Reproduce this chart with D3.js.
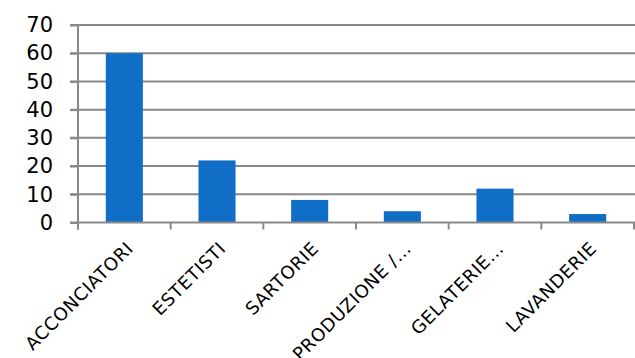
<!DOCTYPE html>
<html>
<head>
<meta charset="utf-8">
<script src="https://cdn.jsdelivr.net/npm/d3@7"></script>
<style>
  html, body { margin: 0; padding: 0; background: #fff; }
  svg { display: block; }
</style>
</head>
<body>
<svg id="chart" width="635" height="358"></svg>
<script>
// Categories and counts
const categories = ["ACCONCIATORI", "ESTETISTI", "SARTORIE", "PRODUZIONE /…", "GELATERIE…", "LAVANDERIE"];
const values = [60, 22, 8, 4, 12, 3];
const yTicks = [0, 10, 20, 30, 40, 50, 60, 70];

const W = 635, H = 358;
const m = { left: 78, right: 1, top: 25, bottom: 135.5 };
const fontFamily = "'DejaVu Sans', sans-serif";
const gridColor = "#898989";
const barColor = "#106ec6";

const svg = d3.select("#chart");

const x = d3.scaleBand()
  .domain(categories)
  .range([m.left, W - m.right])
  .paddingInner(0.6)
  .paddingOuter(0.3);

const y = d3.scaleLinear()
  .domain([0, 70])
  .range([H - m.bottom, m.top]);

// Horizontal gridlines
svg.append("g")
  .selectAll("line")
  .data(yTicks.filter(d => d > 0))
  .join("line")
  .attr("x1", m.left - 8)
  .attr("x2", W)
  .attr("y1", d => y(d))
  .attr("y2", d => y(d))
  .attr("stroke", gridColor)
  .attr("stroke-width", 2);

// Bars
svg.append("g")
  .selectAll("rect")
  .data(values)
  .join("rect")
  .attr("x", (d, i) => x(categories[i]))
  .attr("width", x.bandwidth())
  .attr("y", d => y(d))
  .attr("height", d => y(0) - y(d))
  .attr("fill", barColor);

// Y axis
const yAxis = svg.append("g")
  .attr("transform", `translate(${m.left},0)`)
  .call(d3.axisLeft(y).tickValues(yTicks).tickSize(8).tickPadding(17));
yAxis.select(".domain").attr("stroke", gridColor).attr("stroke-width", 2)
  .attr("d", `M0,${y(70)}V${y(0) + 7}`);
yAxis.selectAll(".tick line").attr("stroke", gridColor).attr("stroke-width", 2);
yAxis.selectAll(".tick text")
  .attr("font-family", fontFamily)
  .attr("font-size", 21)
  .attr("fill", "#000");

// X axis with boundary ticks between categories
const xAxisG = svg.append("g").attr("transform", `translate(0,${y(0)})`);
xAxisG.append("line")
  .attr("x1", m.left - 8).attr("x2", W)
  .attr("stroke", gridColor).attr("stroke-width", 2);
const step = x.step();
const bounds = d3.range(categories.length + 1).map(i => x(categories[0]) - x.paddingOuter() * step + i * step);
xAxisG.selectAll("line.tk")
  .data(bounds)
  .join("line")
  .attr("class", "tk")
  .attr("x1", d => d).attr("x2", d => d)
  .attr("y1", 0).attr("y2", 7)
  .attr("stroke", gridColor).attr("stroke-width", 2);

// Rotated category labels
xAxisG.selectAll("text")
  .data(categories)
  .join("text")
  .attr("transform", d => `translate(${x(d) + x.bandwidth() / 2 + 10},${27}) rotate(-45)`)
  .attr("text-anchor", "end")
  .attr("font-family", fontFamily)
  .attr("font-size", 18)
  .attr("letter-spacing", 0.6)
  .attr("fill", "#000")
  .text(d => d);
</script>
</body>
</html>
